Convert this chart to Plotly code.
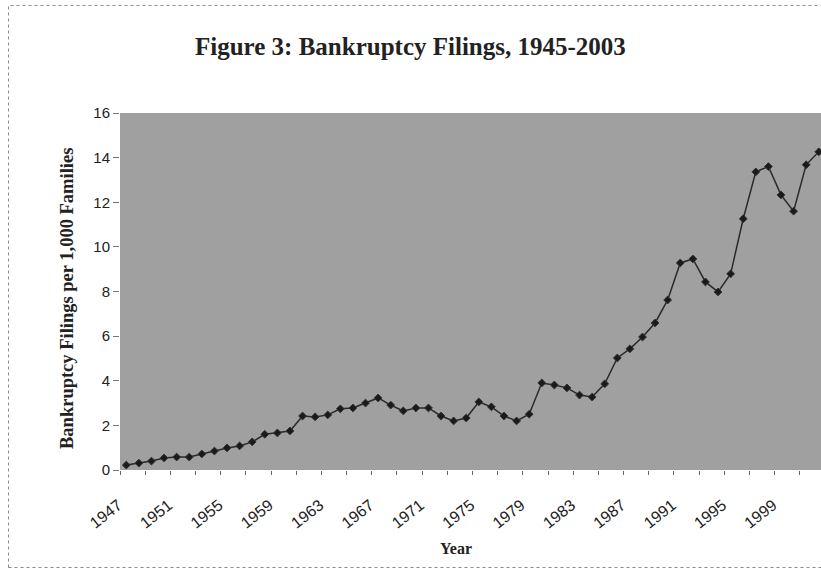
import plotly.graph_objects as go

years = list(range(1947, 2004))
filings = [0.22, 0.31, 0.40, 0.54, 0.58, 0.58, 0.72, 0.85, 0.99, 1.08,
           1.26, 1.60, 1.66, 1.75, 2.42, 2.38, 2.47, 2.74, 2.78, 3.00,
           3.23, 2.91, 2.65, 2.78, 2.78, 2.42, 2.20, 2.33, 3.05, 2.83,
           2.42, 2.20, 2.50, 3.90, 3.81, 3.68, 3.36, 3.27, 3.86, 5.02,
           5.43, 5.96, 6.59, 7.62, 9.28, 9.46, 8.43, 7.98, 8.79, 11.26,
           13.36, 13.60, 12.33, 11.60, 13.68, 14.26, 14.60]
tick_years = list(range(1947, 2000, 4))
tick_labels = [str(y) for y in tick_years]
y_ticks = [0, 2, 4, 6, 8, 10, 12, 14, 16]

title_text = "Figure 3: Bankruptcy Filings, 1945-2003"
y_title = "Bankruptcy Filings per 1,000 Families"
x_title = "Year"

W, H = 821, 571
L, T = 120, 113
B = H - 470
pw = W - L
ph = H - T - B
step = 12.59
x0 = 1946.5
x1 = x0 + pw / step

def px(x):
    return (x - L) / pw

def py(y):
    return (H - B - y) / ph

fig = go.Figure()
fig.add_trace(go.Scatter(
    x=years, y=filings, mode="lines+markers",
    line=dict(color="#2a2a2a", width=1.5),
    marker=dict(symbol="diamond", size=6, color="#1a1a1a",
                line=dict(color="#333333", width=1)),
    showlegend=False, hoverinfo="x+y"))

serif = "Liberation Serif, Times New Roman, serif"
sans = "Liberation Sans, Arial, sans-serif"

fig.update_layout(
    width=W, height=H,
    margin=dict(l=L, r=0, t=T, b=B, pad=0),
    paper_bgcolor="white",
    plot_bgcolor="#a0a0a0",
    xaxis=dict(range=[x0, x1], tickvals=tick_years, ticktext=tick_labels,
               tickangle=-38, ticks="", showgrid=False, zeroline=False,
               showline=False, ticklabelstandoff=22, ticklabelshift=-8,
               tickfont=dict(family=sans, size=16, color="#222"),
               minor=dict(ticks="outside", ticklen=4, tickwidth=1,
                          tickcolor="#666",
                          tickvals=[x0 + 2 * k for k in range(29)],
                          showgrid=False)),
    yaxis=dict(range=[0, 16], tickvals=y_ticks, ticks="outside",
               ticklen=6, tickcolor="#777", showgrid=False, zeroline=False,
               showline=False,
               tickfont=dict(family=sans, size=15, color="#222")),
    annotations=[
        dict(text="<b>" + title_text + "</b>", xref="paper", yref="paper",
             x=px(410), y=py(46), xanchor="center", yanchor="middle",
             showarrow=False, font=dict(family=serif, size=25, color="#222")),
        dict(text="<b>" + y_title + "</b>", xref="paper", yref="paper",
             x=px(67), y=py(299), xanchor="center", yanchor="middle",
             textangle=-90, showarrow=False,
             font=dict(family=serif, size=18.5, color="#222")),
        dict(text="<b>" + x_title + "</b>", xref="paper", yref="paper",
             x=px(456), y=py(548), xanchor="center", yanchor="middle",
             showarrow=False, font=dict(family=serif, size=16, color="#222")),
    ],
    shapes=[
        dict(type="rect", xref="paper", yref="paper",
             x0=px(8.5), y0=py(567.5), x1=px(840), y1=py(5.5),
             line=dict(color="#8a8a8a", width=1, dash="dot"),
             fillcolor="rgba(0,0,0,0)", layer="below"),
    ],
)

fig.write_html(
    "out.html",
    config={"displayModeBar": False},
    post_script="document.body.style.margin='0';document.body.style.overflow='hidden';",
)
